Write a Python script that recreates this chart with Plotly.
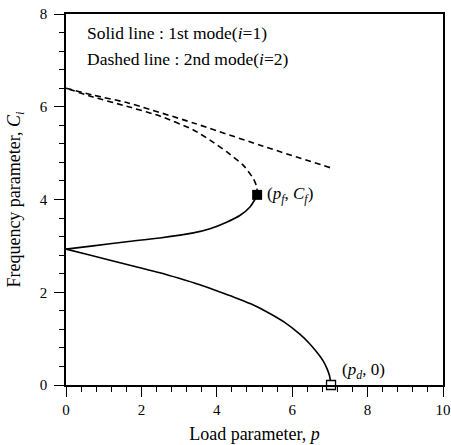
import plotly.graph_objects as go

# Mode 1 (solid) branches
m1_upper_p = [0.0, 0.72, 1.61, 2.49, 3.38, 3.82, 4.26, 4.62, 4.88, 5.01, 5.07]
m1_upper_c = [2.93, 3.00, 3.09, 3.17, 3.28, 3.37, 3.51, 3.66, 3.84, 4.00, 4.10]
m1_lower_p = [0.0, 0.6, 1.17, 1.8, 2.49, 3.0, 3.55, 4.0, 4.44, 4.9, 5.32, 5.8, 6.21, 6.45, 6.65, 6.82, 6.92, 6.99, 7.03]
m1_lower_c = [2.93, 2.81, 2.69, 2.56, 2.42, 2.30, 2.16, 2.03, 1.90, 1.75, 1.58, 1.35, 1.09, 0.90, 0.71, 0.52, 0.36, 0.20, 0.0]

# Mode 2 (dashed) branches
m2_lower_p = [5.07, 5.06, 4.97, 4.70, 4.26, 3.82, 3.38, 2.49, 1.61, 0.72, 0.0]
m2_lower_c = [4.10, 4.27, 4.45, 4.74, 5.03, 5.28, 5.50, 5.80, 6.01, 6.21, 6.40]
m2_upper_p = [0.0, 0.72, 1.61, 3.38, 5.15, 7.07]
m2_upper_c = [6.40, 6.25, 6.09, 5.65, 5.17, 4.67]

# Special points
pf, cf = 5.07, 4.10
pd_, cd = 7.03, 0.0

FONT = "Liberation Serif"

fig = go.Figure()
line_solid = dict(color="black", width=1.6, shape="spline", smoothing=0.6)
line_dash = dict(color="black", width=1.6, dash="6px,4px", shape="spline", smoothing=0.6)

fig.add_trace(go.Scatter(x=m1_upper_p, y=m1_upper_c, mode="lines", line=line_solid))
fig.add_trace(go.Scatter(x=m1_lower_p, y=m1_lower_c, mode="lines", line=line_solid))
fig.add_trace(go.Scatter(x=m2_lower_p, y=m2_lower_c, mode="lines", line=line_dash))
fig.add_trace(go.Scatter(x=m2_upper_p, y=m2_upper_c, mode="lines", line=line_dash))

fig.add_trace(go.Scatter(x=[pf], y=[cf], mode="markers",
                         marker=dict(symbol="square", size=10, color="black")))
fig.add_trace(go.Scatter(x=[pd_], y=[cd], mode="markers", cliponaxis=False,
                         marker=dict(symbol="square", size=9, color="white",
                                     line=dict(color="black", width=1.3))))

axis_common = dict(
    showline=True, linecolor="black", linewidth=1.6, mirror=True,
    showgrid=False, zeroline=False, automargin=False,
    ticks="outside", ticklen=10, tickwidth=1.3, tickcolor="black",
    tickfont=dict(family=FONT, size=15, color="black"),
    minor=dict(ticks="outside", ticklen=5, tickwidth=1.2, tickcolor="black", dtick=0.4, showgrid=False),
)

fig.update_layout(
    width=451, height=445,
    margin=dict(l=66, r=8, t=14, b=60),
    paper_bgcolor="white", plot_bgcolor="white",
    showlegend=False,
    font=dict(family=FONT, color="black"),
    xaxis=dict(range=[0, 10], dtick=2, tick0=0,
               title=dict(text="Load parameter, <i>p</i>", font=dict(family=FONT, size=18), standoff=11),
               **axis_common),
    yaxis=dict(range=[0, 8], dtick=2, tick0=0, ticklabelstandoff=4,
               title=dict(text="Frequency parameter, <i>C</i><sub><i>i</i></sub>", font=dict(family=FONT, size=18), standoff=14),
               **axis_common),
    annotations=[
        dict(x=0.5, y=7.59, xref="x", yref="y", xanchor="left", yanchor="middle", showarrow=False,
             text="Solid line : 1st mode(<i>i</i>=1)", font=dict(family=FONT, size=17.5)),
        dict(x=0.5, y=7.03, xref="x", yref="y", xanchor="left", yanchor="middle", showarrow=False,
             text="Dashed line : 2nd mode(<i>i</i>=2)", font=dict(family=FONT, size=17.5)),
        dict(x=5.28, y=cf, xref="x", yref="y", xanchor="left", yanchor="middle", showarrow=False,
             text="(<i>p</i><sub><i>f</i></sub>, <i>C</i><sub><i>f</i></sub>)", font=dict(family=FONT, size=17)),
        dict(x=7.27, y=0.3, xref="x", yref="y", xanchor="left", yanchor="middle", showarrow=False,
             text="(<i>p</i><sub><i>d</i></sub>, 0)", font=dict(family=FONT, size=17)),
    ],
)

fig.write_html("out.html", config={"displayModeBar": False},
               post_script="document.body.style.margin='0';document.body.style.overflow='hidden';")
